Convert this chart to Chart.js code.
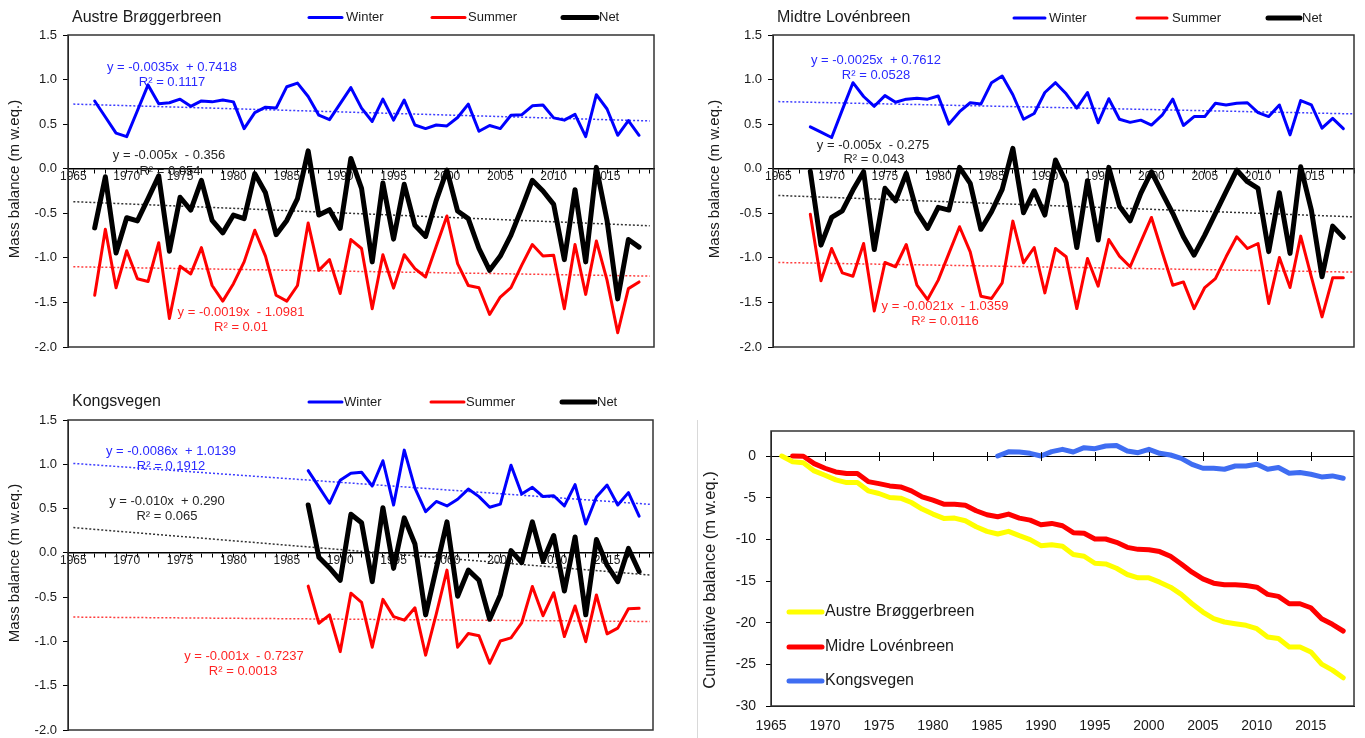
<!DOCTYPE html>
<html>
<head>
<meta charset="utf-8">
<title>Kongsfjorden glaciers – mass balance</title>
<script src="https://cdn.jsdelivr.net/npm/chart.js@4.4.1/dist/chart.umd.min.js"></script>
<style>
  html, body { margin: 0; padding: 0; background: #fff; }
  body { width: 1365px; height: 738px; position: relative; overflow: hidden; }
  canvas { position: absolute; }
  #c-ab { left: 0; top: 0; }
  #c-ml { left: 700px; top: 0; }
  #c-kv { left: 0; top: 380px; }
  #c-cum { left: 697px; top: 420px; }
</style>
</head>
<body>
<canvas id="c-ab" width="680" height="372"></canvas>
<canvas id="c-ml" width="665" height="372"></canvas>
<canvas id="c-kv" width="680" height="358"></canvas>
<canvas id="c-cum" width="668" height="318"></canvas>
<script>
(() => {
  'use strict';

  const FONT = '"Liberation Sans", Arial, Helvetica, sans-serif';
  const INK = '#1a1a1a';

  function span(a, b) { const out = []; for (let y = a; y <= b; y++) out.push(y); return out; }

  // --- Austre Brøggerbreen, 1967-2018 (m w.eq.)
  const abYears = span(1967, 2018);
  const abWinter = [0.76, 0.58, 0.40, 0.36, 0.65, 0.94, 0.73, 0.74, 0.78, 0.70,
    0.76, 0.75, 0.77, 0.75, 0.45, 0.63, 0.69, 0.68, 0.92, 0.96,
    0.81, 0.60, 0.55, 0.73, 0.91, 0.68, 0.53, 0.78, 0.545, 0.77,
    0.49, 0.45, 0.49, 0.48, 0.575, 0.725, 0.42, 0.485, 0.45, 0.60,
    0.605, 0.705, 0.715, 0.57, 0.545, 0.61, 0.36, 0.83, 0.67, 0.375,
    0.54, 0.375];
  const abSummer = [-1.42, -0.68, -1.335, -0.92, -1.235, -1.265, -0.83, -1.68, -1.095, -1.18,
    -0.885, -1.31, -1.485, -1.29, -1.045, -0.69, -0.98, -1.42, -1.485, -1.31,
    -0.61, -1.14, -1.02, -1.40, -0.795, -0.895, -1.57, -0.965, -1.34, -0.965,
    -1.12, -1.215, -0.87, -0.53, -1.065, -1.31, -1.335, -1.635, -1.44, -1.335,
    -1.085, -0.85, -0.98, -0.97, -1.57, -0.85, -1.41, -0.81, -1.25, -1.84,
    -1.345, -1.27];
  const abNet = [-0.664, -0.09, -0.945, -0.55, -0.585, -0.335, -0.08, -0.925, -0.32, -0.465,
    -0.13, -0.58, -0.72, -0.52, -0.56, -0.055, -0.27, -0.74, -0.58, -0.335,
    0.20, -0.52, -0.46, -0.67, 0.115, -0.22, -1.045, -0.16, -0.79, -0.175,
    -0.635, -0.76, -0.355, -0.015, -0.475, -0.56, -0.895, -1.14, -0.98, -0.745,
    -0.445, -0.13, -0.25, -0.40, -1.02, -0.235, -1.045, 0.015, -0.58, -1.46,
    -0.795, -0.88];

  // --- Midtre Lovénbreen, 1968-2018
  const mlYears = span(1968, 2018);
  const mlWinter = [0.47, 0.41, 0.35, 0.66, 0.965, 0.81, 0.70, 0.82, 0.745, 0.78,
    0.79, 0.78, 0.815, 0.50, 0.64, 0.74, 0.725, 0.965, 1.04, 0.83,
    0.555, 0.62, 0.855, 0.965, 0.84, 0.68, 0.855, 0.515, 0.785, 0.555,
    0.52, 0.545, 0.49, 0.60, 0.78, 0.485, 0.585, 0.585, 0.735, 0.715,
    0.735, 0.74, 0.63, 0.585, 0.715, 0.38, 0.765, 0.715, 0.455, 0.565,
    0.45];
  const mlSummer = [-0.51, -1.258, -0.895, -1.168, -1.206, -0.839, -1.595, -1.052, -1.10, -0.85,
    -1.307, -1.468, -1.25, -0.95, -0.651, -0.932, -1.43, -1.456, -1.28, -0.588,
    -1.056, -0.884, -1.393, -0.895, -0.988, -1.569, -1.007, -1.318, -0.794, -0.98,
    -1.10, -0.82, -0.547, -0.932, -1.307, -1.27, -1.569, -1.333, -1.232, -0.988,
    -0.764, -0.895, -0.839, -1.513, -0.996, -1.333, -0.756, -1.213, -1.662, -1.224,
    -1.224];
  const mlNet = [-0.03, -0.857, -0.547, -0.472, -0.24, -0.034, -0.906, -0.22, -0.36, -0.052,
    -0.483, -0.67, -0.434, -0.464, 0.015, -0.165, -0.68, -0.483, -0.232, 0.228,
    -0.494, -0.247, -0.52, 0.097, -0.157, -0.884, -0.135, -0.80, 0.015, -0.42,
    -0.584, -0.277, -0.034, -0.27, -0.50, -0.764, -0.97, -0.745, -0.50, -0.258,
    -0.015, -0.146, -0.22, -0.93, -0.27, -0.95, 0.022, -0.464, -1.213, -0.644,
    -0.77];

  // --- Kongsvegen, 1987-2018
  const kvYears = span(1987, 2018);
  const kvWinter = [0.928, 0.745, 0.56, 0.82, 0.90, 0.91, 0.755, 1.04, 0.54, 1.16,
    0.73, 0.465, 0.58, 0.53, 0.605, 0.72, 0.635, 0.515, 0.55, 0.99,
    0.665, 0.74, 0.635, 0.645, 0.53, 0.77, 0.325, 0.63, 0.765, 0.54,
    0.68, 0.415];
  const kvSummer = [-0.375, -0.795, -0.70, -1.115, -0.455, -0.56, -1.065, -0.525, -0.72, -0.76,
    -0.62, -1.155, -0.69, -0.195, -1.065, -0.91, -0.935, -1.247, -0.995, -0.96,
    -0.79, -0.38, -0.71, -0.45, -0.945, -0.60, -1.003, -0.475, -0.915, -0.85,
    -0.63, -0.625];
  const kvNet = [0.54, -0.05, -0.17, -0.31, 0.435, 0.34, -0.325, 0.51, -0.175, 0.395,
    0.10, -0.70, -0.175, 0.35, -0.49, -0.195, -0.31, -0.75, -0.475, 0.025,
    -0.11, 0.35, -0.09, 0.195, -0.43, 0.18, -0.70, 0.15, -0.14, -0.325,
    0.05, -0.21];

  // --- linear trend lines (end values at 1965 and 2019)
  const trendYears = [1965, 2019];
  const abTrendWinter = [0.725, 0.536];
  const abTrendSummer = [-1.10, -1.205];
  const abTrendNet = [-0.37, -0.64];
  const mlTrendWinter = [0.753, 0.615];
  const mlTrendSummer = [-1.052, -1.160];
  const mlTrendNet = [-0.30, -0.54];
  const kvTrendWinter = [1.01, 0.548];
  const kvTrendSummer = [-0.725, -0.775];
  const kvTrendNet = [0.285, -0.25];

  // --- cumulative balance (m w.eq.)
  const cumYearsAB = span(1966, 2018);
  const cumAB = [0, -0.68, -0.80, -1.79, -2.31, -2.87, -3.19, -3.19, -4.18, -4.50,
    -4.98, -5.06, -5.58, -6.37, -6.97, -7.49, -7.45, -7.77, -8.49, -9.04,
    -9.36, -9.04, -9.56, -10.04, -10.76, -10.64, -10.84, -11.83, -12.03, -12.87,
    -12.95, -13.47, -14.22, -14.62, -14.62, -15.14, -15.74, -16.61, -17.73, -18.73,
    -19.52, -19.92, -20.12, -20.32, -20.72, -21.71, -21.91, -22.91, -22.91, -23.51,
    -24.98, -25.70, -26.61];
  const cumYearsML = span(1967, 2018);
  const cumML = [0, -0.03, -0.92, -1.47, -1.91, -2.11, -2.11, -3.07, -3.31, -3.59,
    -3.71, -4.18, -4.90, -5.30, -5.78, -5.78, -5.90, -6.57, -7.05, -7.29,
    -6.97, -7.45, -7.69, -8.25, -8.09, -8.37, -9.20, -9.28, -9.96, -9.96,
    -10.36, -10.96, -11.20, -11.24, -11.47, -12.03, -12.95, -13.94, -14.74, -15.26,
    -15.46, -15.46, -15.54, -15.74, -16.61, -16.85, -17.73, -17.73, -18.21, -19.52,
    -20.20, -21.00];
  const cumYearsKV = span(1986, 2018);
  const cumKV = [0, 0.50, 0.47, 0.32, 0.0, 0.52, 0.80, 0.48, 1.0, 0.88,
    1.20, 1.27, 0.60, 0.40, 0.80, 0.32, 0.12, -0.28, -1.0, -1.47,
    -1.47, -1.59, -1.20, -1.20, -1.0, -1.59, -1.39, -2.07, -1.99, -2.19,
    -2.51, -2.39, -2.67];

  // --- tick labels
  const yearTicks = span(1965, 2019);
  const massTicks = [-2, -1.5, -1, -0.5, 0, 0.5, 1, 1.5];
  const cumTicks = [-30, -25, -20, -15, -10, -5, 0];
  const cumYearTicks = [1965, 1970, 1975, 1980, 1985, 1990, 1995, 2000, 2005, 2010, 2015];

  const pts = (xs, ys) => ys.map((y, i) => ({ x: xs[i], y }));

  function solid(label, xs, ys, color, width) {
    return { label, data: pts(xs, ys), borderColor: color, backgroundColor: color, borderWidth: width,
      pointRadius: 0, tension: 0, borderJoinStyle: 'round', borderCapStyle: 'round' };
  }
  function dotted(ys, color) {
    return { label: '', data: pts(trendYears, ys), borderColor: color, borderWidth: 1.5,
      borderDash: [2, 2], pointRadius: 0, tension: 0 };
  }

  // titles, legends, equations, axis titles and the plot frame
  const decor = {
    id: 'decor',
    beforeDatasetsDraw(chart, args, o) {
      const ctx = chart.ctx;
      ctx.save();
      ctx.font = '13px ' + FONT;
      ctx.textAlign = 'center';
      ctx.textBaseline = 'middle';
      (o.notes || []).forEach(n => { ctx.fillStyle = n.color; ctx.fillText(n.text, n.x, n.y); });
      ctx.restore();
    },
    afterDatasetsDraw(chart, args, o) {
      const { ctx, chartArea: a } = chart;
      ctx.save();
      if (o.zeroTicks) {
        const y0 = chart.scales.y.getPixelForValue(0);
        ctx.strokeStyle = '#000';
        ctx.lineWidth = 1;
        chart.scales.x.ticks.forEach(t => {
          if (t.value <= chart.scales.x.min) return;
          const px = Math.round(chart.scales.x.getPixelForValue(t.value)) + 0.5;
          ctx.beginPath(); ctx.moveTo(px, y0 - 4); ctx.lineTo(px, y0 + 5); ctx.stroke();
        });
      }
      ctx.strokeStyle = '#333';
      ctx.lineWidth = 1.5;
      ctx.strokeRect(a.left, a.top, a.right - a.left, a.bottom - a.top);
      ctx.restore();
    },
    afterDraw(chart, args, o) {
      const ctx = chart.ctx;
      ctx.save();
      ctx.textBaseline = 'middle';
      ctx.textAlign = 'left';
      if (o.title) {
        ctx.font = '16px ' + FONT;
        ctx.fillStyle = INK;
        ctx.fillText(o.title.text, o.title.x, o.title.y);
      }
      if (o.yTitle) {
        ctx.save();
        ctx.translate(o.yTitle.x, o.yTitle.y);
        ctx.rotate(-Math.PI / 2);
        ctx.textAlign = 'center';
        ctx.font = o.yTitle.size + 'px ' + FONT;
        ctx.fillStyle = INK;
        ctx.fillText(o.yTitle.text, 0, 0);
        ctx.restore();
      }
      if (o.sideRule) {
        ctx.strokeStyle = '#d9d9d9';
        ctx.lineWidth = 1;
        ctx.beginPath(); ctx.moveTo(0.5, 0); ctx.lineTo(0.5, chart.height); ctx.stroke();
      }
      ctx.font = (o.legendSize || 13) + 'px ' + FONT;
      (o.legend || []).forEach(it => {
        const ds = chart.data.datasets[it.ds];
        ctx.strokeStyle = ds.borderColor;
        ctx.lineWidth = ds.borderWidth;
        ctx.lineCap = 'round';
        ctx.beginPath(); ctx.moveTo(it.x0, it.y); ctx.lineTo(it.x1, it.y); ctx.stroke();
        ctx.fillStyle = INK;
        ctx.fillText(ds.label, it.tx, it.y);
      });
      ctx.restore();
    },
  };

  function balancePanel(id, p) {
    new Chart(document.getElementById(id), {
      type: 'line',
      data: {
        datasets: [
          solid('Winter', p.years, p.winter, '#0000ff', 3),
          solid('Summer', p.years, p.summer, '#ff0000', 3),
          solid('Net', p.years, p.net, '#000000', 5),
          dotted(p.trendWinter, '#3c3cff'),
          dotted(p.trendSummer, '#ff3c3c'),
          dotted(p.trendNet, '#333333'),
        ],
      },
      options: {
        responsive: false,
        animation: false,
        events: [],
        layout: { padding: p.pad },
        plugins: {
          legend: { display: false },
          tooltip: { enabled: false },
          decor: {
            title: p.title, legend: p.legend, notes: p.notes,
            yTitle: { text: 'Mass balance (m w.eq.)', x: 15, y: p.yTitleY, size: 15 },
          },
        },
        scales: {
          y: {
            min: -2, max: 1.5,
            afterBuildTicks: s => { s.ticks = massTicks.map(v => ({ value: v })); },
            afterFit: s => { s.width = p.axisWidth; s.paddingTop = 0; s.paddingBottom = 0; },
            ticks: { padding: 6, color: INK, font: { size: 13 }, callback: v => v.toFixed(1) },
            grid: { drawOnChartArea: false, drawTicks: true, tickLength: 5, color: '#000' },
            border: { color: '#000', width: 1 },
          },
          x: {
            type: 'linear', min: 1964.5, max: p.xMax,
            position: { y: 0 },
            afterBuildTicks: s => { s.ticks = yearTicks.map(v => ({ value: v })); },
            ticks: { autoSkip: false, maxRotation: 0, padding: -3, color: INK, font: { size: 12 },
              callback: v => (v % 5 === 0 ? String(v) : '') },
            grid: { drawOnChartArea: false, drawTicks: true, tickLength: 4, color: '#000' },
            border: { color: '#000', width: 1.5 },
          },
        },
      },
      plugins: [decor],
    });
  }

  balancePanel('c-ab', {
    years: abYears, winter: abWinter, summer: abSummer, net: abNet,
    trendWinter: abTrendWinter, trendSummer: abTrendSummer, trendNet: abTrendNet,
    xMax: 2019.4, axisWidth: 68, pad: { top: 35, right: 26, bottom: 25, left: 0 }, yTitleY: 179,
    title: { text: 'Austre Brøggerbreen', x: 72, y: 18 },
    legend: [
      { ds: 0, x0: 309, x1: 342, tx: 346, y: 17.5 },
      { ds: 1, x0: 432, x1: 465, tx: 468, y: 17.5 },
      { ds: 2, x0: 563, x1: 597, tx: 599, y: 17.5 },
    ],
    notes: [
      { text: 'y = -0.0035x  + 0.7418', x: 172, y: 67, color: '#2a2aff' },
      { text: 'R² = 0.1117', x: 172, y: 82, color: '#2a2aff' },
      { text: 'y = -0.005x  - 0.356', x: 169, y: 155, color: '#262626' },
      { text: 'R² = 0.054', x: 170, y: 171.5, color: '#262626' },
      { text: 'y = -0.0019x  - 1.0981', x: 241, y: 312, color: '#ff2424' },
      { text: 'R² = 0.01', x: 241, y: 327, color: '#ff2424' },
    ],
  });

  balancePanel('c-ml', {
    years: mlYears, winter: mlWinter, summer: mlSummer, net: mlNet,
    trendWinter: mlTrendWinter, trendSummer: mlTrendSummer, trendNet: mlTrendNet,
    xMax: 2019.0, axisWidth: 73, pad: { top: 35, right: 11, bottom: 25, left: 0 }, yTitleY: 179,
    title: { text: 'Midtre Lovénbreen', x: 77, y: 18 },
    legend: [
      { ds: 0, x0: 314, x1: 345, tx: 349, y: 18 },
      { ds: 1, x0: 437, x1: 467, tx: 472, y: 18 },
      { ds: 2, x0: 568, x1: 600, tx: 602, y: 18 },
    ],
    notes: [
      { text: 'y = -0.0025x  + 0.7612', x: 176, y: 60, color: '#2a2aff' },
      { text: 'R² = 0.0528', x: 176, y: 75, color: '#2a2aff' },
      { text: 'y = -0.005x  - 0.275', x: 173, y: 145, color: '#262626' },
      { text: 'R² = 0.043', x: 174, y: 159.5, color: '#262626' },
      { text: 'y = -0.0021x  - 1.0359', x: 245, y: 306, color: '#ff2424' },
      { text: 'R² = 0.0116', x: 245, y: 321.5, color: '#ff2424' },
    ],
  });

  balancePanel('c-kv', {
    years: kvYears, winter: kvWinter, summer: kvSummer, net: kvNet,
    trendWinter: kvTrendWinter, trendSummer: kvTrendSummer, trendNet: kvTrendNet,
    xMax: 2019.3, axisWidth: 68, pad: { top: 40, right: 27, bottom: 8, left: 0 }, yTitleY: 183,
    title: { text: 'Kongsvegen', x: 72, y: 22 },
    legend: [
      { ds: 0, x0: 309, x1: 342, tx: 344, y: 22 },
      { ds: 1, x0: 431, x1: 464, tx: 466, y: 22 },
      { ds: 2, x0: 562, x1: 595, tx: 597, y: 22 },
    ],
    notes: [
      { text: 'y = -0.0086x  + 1.0139', x: 171, y: 71, color: '#2a2aff' },
      { text: 'R² = 0.1912', x: 171, y: 86, color: '#2a2aff' },
      { text: 'y = -0.010x  + 0.290', x: 167, y: 121.5, color: '#262626' },
      { text: 'R² = 0.065', x: 167, y: 136.5, color: '#262626' },
      { text: 'y = -0.001x  - 0.7237', x: 244, y: 276.5, color: '#ff2424' },
      { text: 'R² = 0.0013', x: 243, y: 291.5, color: '#ff2424' },
    ],
  });

  new Chart(document.getElementById('c-cum'), {
    type: 'line',
    data: {
      datasets: [
        solid('Austre Brøggerbreen', cumYearsAB, cumAB, '#ffff00', 5),
        solid('Midre Lovénbreen', cumYearsML, cumML, '#ff0000', 5),
        solid('Kongsvegen', cumYearsKV, cumKV, '#3f6df2', 5),
      ],
    },
    options: {
      responsive: false,
      animation: false,
      events: [],
      layout: { padding: { top: 11, right: 11, bottom: 0, left: 0 } },
      plugins: {
        legend: { display: false },
        tooltip: { enabled: false },
        decor: {
          sideRule: true,
          zeroTicks: true,
          legendSize: 16,
          yTitle: { text: 'Cumulative balance (m w.eq.)', x: 13, y: 160, size: 16.5 },
          legend: [
            { ds: 0, x0: 92, x1: 125, tx: 128, y: 192 },
            { ds: 1, x0: 92, x1: 125, tx: 128, y: 227 },
            { ds: 2, x0: 92, x1: 125, tx: 128, y: 261 },
          ],
        },
      },
      scales: {
        y: {
          min: -30, max: 3,
          afterBuildTicks: s => { s.ticks = cumTicks.map(v => ({ value: v })); },
          afterFit: s => { s.width = 74; s.paddingTop = 0; s.paddingBottom = 0; },
          ticks: { padding: 10, color: INK, font: { size: 14 } },
          grid: {
            drawOnChartArea: true, drawTicks: true, tickLength: 5, tickColor: '#000',
            color: c => (c.tick && c.tick.value === 0 ? '#000' : 'rgba(0,0,0,0)'),
          },
          border: { color: '#000', width: 1 },
        },
        x: {
          type: 'linear', min: 1965, max: 2019, position: 'bottom',
          afterBuildTicks: s => { s.ticks = cumYearTicks.map(v => ({ value: v })); },
          afterFit: s => { s.height = 32; },
          ticks: { autoSkip: false, maxRotation: 0, padding: 12, color: INK, font: { size: 14 },
            callback: v => String(v) },
          grid: { display: false, drawTicks: false },
          border: { color: '#000', width: 1 },
        },
      },
    },
    plugins: [decor],
  });
})();
</script>
</body>
</html>
